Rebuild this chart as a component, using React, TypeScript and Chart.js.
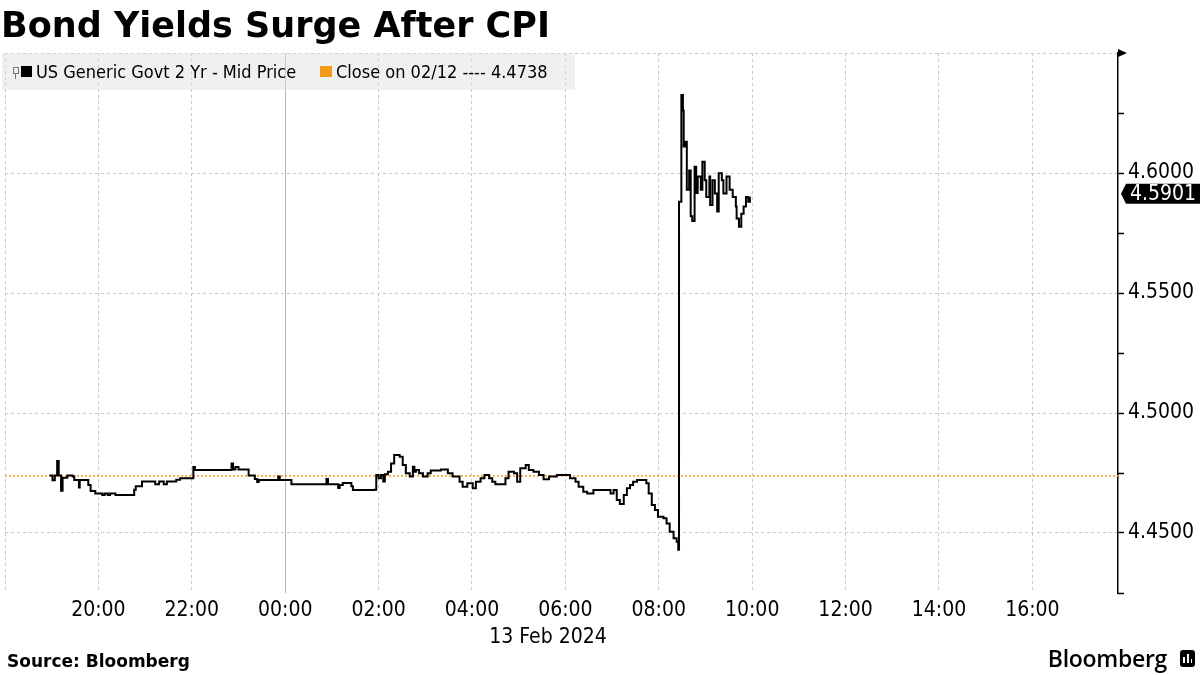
import React, { useEffect, useRef } from 'react';
import { Chart, registerables } from 'chart.js';

Chart.register(...registerables);

// ---- Data ----
const times: string[] = [
  '18:57', '19:01', '19:04', '19:07', '19:09', '19:12', '19:14', '19:20', '19:27', '19:29',
  '19:35', '19:36', '19:47', '19:50', '19:56', '20:05', '20:08', '20:12', '20:15', '20:22',
  '20:46', '20:48', '20:56', '21:13', '21:18', '21:24', '21:28', '21:40', '21:45', '22:02',
  '22:04', '22:51', '22:53', '22:56', '23:00', '23:13', '23:21', '23:24', '23:26', '23:51',
  '23:53', '00:08', '00:53', '00:55', '01:08', '01:10', '01:14', '01:25', '01:27', '01:55',
  '01:57', '02:00', '02:03', '02:06', '02:08', '02:12', '02:16', '02:20', '02:27', '02:31',
  '02:35', '02:40', '02:44', '02:46', '02:48', '02:52', '02:57', '03:03', '03:07', '03:20',
  '03:29', '03:35', '03:44', '03:48', '03:54', '04:01', '04:05', '04:11', '04:16', '04:22',
  '04:26', '04:30', '04:43', '04:47', '04:54', '04:58', '05:02', '05:09', '05:13', '05:19',
  '05:26', '05:32', '05:39', '05:49', '06:02', '06:06', '06:13', '06:17', '06:23', '06:28',
  '06:36', '06:53', '06:58', '07:02', '07:06', '07:10', '07:15', '07:19', '07:23', '07:27',
  '07:32', '07:44', '07:47', '07:51', '07:55', '07:59', '08:06', '08:10', '08:14', '08:19',
  '08:23', '08:25', '08:26', '08:29', '08:31', '08:32', '08:34', '08:36', '08:39', '08:41',
  '08:43', '08:46', '08:48', '08:50', '08:54', '08:56', '08:59', '09:01', '09:05', '09:06',
  '09:09', '09:12', '09:15', '09:17', '09:21', '09:23', '09:27', '09:31', '09:35', '09:39',
  '09:40', '09:43', '09:46', '09:49', '09:52', '09:55', '09:57',
];

const yields: number[] = [
  4.4740, 4.4720, 4.4740, 4.4800, 4.4740, 4.4676, 4.4730, 4.4740, 4.4735, 4.4721,
  4.4690, 4.4721, 4.4700, 4.4675, 4.4665, 4.4658, 4.4665, 4.4658, 4.4665, 4.4658,
  4.4680, 4.4695, 4.4715, 4.4703, 4.4715, 4.4703, 4.4715, 4.4722, 4.4728, 4.4775,
  4.4763, 4.4790, 4.4765, 4.4775, 4.4765, 4.4740, 4.4725, 4.4712, 4.4721, 4.4735,
  4.4721, 4.4703, 4.4725, 4.4703, 4.4688, 4.4700, 4.4708, 4.4695, 4.4679, 4.4680,
  4.4742, 4.4728, 4.4742, 4.4715, 4.4745, 4.4755, 4.4790, 4.4825, 4.4818, 4.4783,
  4.4749, 4.4735, 4.4776, 4.4755, 4.4763, 4.4749, 4.4735, 4.4749, 4.4760, 4.4765,
  4.4749, 4.4735, 4.4714, 4.4693, 4.4707, 4.4686, 4.4714, 4.4728, 4.4742, 4.4728,
  4.4714, 4.4703, 4.4728, 4.4755, 4.4749, 4.4714, 4.4770, 4.4783, 4.4763, 4.4755,
  4.4742, 4.4724, 4.4735, 4.4742, 4.4742, 4.4728, 4.4714, 4.4693, 4.4672, 4.4665,
  4.4679, 4.4679, 4.4665, 4.4679, 4.4638, 4.4621, 4.4658, 4.4686, 4.4700, 4.4714,
  4.4721, 4.4707, 4.4665, 4.4617, 4.4596, 4.4568, 4.4561, 4.4540, 4.4505, 4.4478,
  4.4464, 4.4430, 4.5880, 4.6325, 4.6260, 4.6110, 4.6130, 4.5930, 4.6010, 4.5820,
  4.5800, 4.6026, 4.5917, 4.5985, 4.5930, 4.6047, 4.5970, 4.5900, 4.5985, 4.5867,
  4.5970, 4.5915, 4.5840, 4.5999, 4.5970, 4.5915, 4.5985, 4.5930, 4.5900, 4.5860,
  4.5810, 4.5776, 4.5830, 4.5860, 4.5900, 4.5880, 4.5901,
];

const prevClose = 4.4738;
const seriesName = 'US Generic Govt 2 Yr - Mid Price';
const closeName = 'Close on 02/12';

const xTickTimes: string[] = ['18:00', '20:00', '22:00', '00:00', '02:00', '04:00', '06:00', '08:00', '10:00', '12:00', '14:00', '16:00'];
const xTickLabels: string[] = ['', '20:00', '22:00', '00:00', '02:00', '04:00', '06:00', '08:00', '10:00', '12:00', '14:00', '16:00'];
const dateLabel = '13 Feb 2024';
const xStart = '18:00';
const xEnd = '17:50';
const yMin = 4.425;
const yMax = 4.65;
const yMajorTicks: number[] = [4.45, 4.5, 4.55, 4.6, 4.65];
const yMinorTicks: number[] = [4.425, 4.475, 4.525, 4.575, 4.625];

const title = 'Bond Yields Surge After CPI';
const source = 'Source: Bloomberg';

// ---- helpers ----
const toMinutes = (t: string): number => {
  const [h, m] = t.split(':').map(Number);
  return (h * 60 + m - 18 * 60 + 1440) % 1440;
};
const xMax = toMinutes(xEnd);
const midnight = toMinutes('00:00');

const COND = "'DejaVu Sans Condensed', 'DejaVu Sans', sans-serif";

// unlabelled minor tick marks on the right axis, arrow at its top, last-value tag
const axisPlugin = {
  id: 'axisExtras',
  afterDraw(chart: any) {
    const { ctx, chartArea, scales } = chart;
    const xr = chartArea.right;
    ctx.save();
    ctx.strokeStyle = '#000';
    ctx.lineWidth = 1.5;
    yMinorTicks.forEach((v) => {
      const py = Math.round(scales.y.getPixelForValue(v)) + 0.5;
      ctx.beginPath();
      ctx.moveTo(xr, py);
      ctx.lineTo(xr + 6, py);
      ctx.stroke();
    });
    ctx.fillStyle = '#000';
    ctx.beginPath();
    ctx.moveTo(xr, chartArea.top - 4);
    ctx.lineTo(xr + 9, chartArea.top);
    ctx.lineTo(xr, chartArea.top + 4);
    ctx.closePath();
    ctx.fill();
    const last = yields[yields.length - 1];
    const py = scales.y.getPixelForValue(last) - 3;
    ctx.beginPath();
    ctx.moveTo(xr + 3, py);
    ctx.lineTo(xr + 8, py - 10);
    ctx.lineTo(chart.width, py - 10);
    ctx.lineTo(chart.width, py + 10);
    ctx.lineTo(xr + 8, py + 10);
    ctx.closePath();
    ctx.fill();
    ctx.fillStyle = '#fff';
    ctx.font = `21px ${COND}`;
    ctx.textBaseline = 'middle';
    ctx.textAlign = 'left';
    ctx.fillText(last.toFixed(4), xr + 12, py + 1);
    ctx.restore();
  },
};

export default function App() {
  const canvasRef = useRef<HTMLCanvasElement | null>(null);

  useEffect(() => {
    if (!canvasRef.current) return;
    const chart = new Chart(canvasRef.current, {
      type: 'line',
      data: {
        datasets: [
          {
            label: seriesName,
            data: times.map((t, i) => ({ x: toMinutes(t), y: yields[i] })),
            borderColor: '#000',
            borderWidth: 2,
            pointRadius: 0,
            stepped: true,
            order: 0,
          },
          {
            label: closeName,
            data: [
              { x: toMinutes(xStart), y: prevClose },
              { x: xMax, y: prevClose },
            ],
            borderColor: '#f39a1a',
            borderWidth: 1.5,
            borderDash: [2, 2],
            pointRadius: 0,
            order: 1,
          },
        ],
      },
      options: {
        responsive: false,
        animation: false,
        devicePixelRatio: 1,
        layout: { padding: { left: 1, top: 53, right: 0, bottom: 42 } },
        plugins: { legend: { display: false }, tooltip: { enabled: false } },
        scales: {
          x: {
            type: 'linear',
            min: toMinutes(xStart),
            max: xMax,
            afterBuildTicks: (scale: any) => {
              scale.ticks = xTickTimes.map((t) => ({ value: toMinutes(t) }));
            },
            afterFit: (scale: any) => {
              scale.height = 40;
            },
            ticks: {
              autoSkip: false,
              maxRotation: 0,
              padding: 5,
              color: '#000',
              font: { family: COND, size: 21 },
              callback: (v: any) => {
                const i = xTickTimes.findIndex((t) => toMinutes(t) === v);
                return i >= 0 ? xTickLabels[i] : '';
              },
            },
            grid: {
              drawTicks: false,
              color: (c: any) => (c.tick && c.tick.value === midnight ? '#b4b4b4' : '#c8c8c8'),
              lineWidth: 1,
            },
            border: {
              display: false,
              dash: (c: any) => (c.tick && c.tick.value === midnight ? [] : [3, 3]),
            },
          },
          y: {
            type: 'linear',
            position: 'right',
            min: yMin,
            max: yMax,
            afterBuildTicks: (scale: any) => {
              scale.ticks = yMajorTicks.map((v) => ({ value: v }));
            },
            afterFit: (scale: any) => {
              scale.width = 82;
            },
            ticks: {
              padding: 4,
              color: '#000',
              font: { family: COND, size: 21 },
              callback: (v: any) => (v < yMax - 1e-6 ? Number(v).toFixed(4) : ''),
            },
            grid: {
              color: '#c8c8c8',
              lineWidth: 1,
              tickColor: '#000',
              tickLength: 6,
              tickWidth: 1.5,
            },
            border: { display: true, color: '#000', width: 1.5, dash: [3, 3] },
          },
        },
      },
      plugins: [axisPlugin],
    } as any);
    return () => chart.destroy();
  }, []);

  return (
    <div style={{ position: 'fixed', left: 0, top: 0, width: 1200, height: 675, background: '#fff', overflow: 'hidden' }}>
      <canvas ref={canvasRef} width={1200} height={675} style={{ display: 'block', position: 'absolute', left: 0, top: 0 }} />
      <div
        style={{
          position: 'absolute', left: 1, top: 5, lineHeight: '40px', fontSize: 35, fontWeight: 700,
          fontFamily: "'DejaVu Sans', sans-serif", color: '#000', whiteSpace: 'nowrap',
        }}
      >
        {title}
      </div>
      <div
        style={{
          position: 'absolute', left: 2, top: 53, width: 573, height: 37, background: 'rgba(225,225,225,0.5)',
          fontFamily: COND, fontSize: 18, lineHeight: '37px', color: '#000', whiteSpace: 'nowrap',
        }}
      >
        <span style={{ position: 'absolute', left: 11, top: 14, width: 4, height: 5, border: '1px solid #777' }} />
        <span style={{ position: 'absolute', left: 13, top: 20, width: 1, height: 6, background: '#777' }} />
        <span style={{ position: 'absolute', left: 19, top: 13, width: 11, height: 11, background: '#000' }} />
        <span style={{ position: 'absolute', left: 34, top: 0 }}>{seriesName}</span>
        <span style={{ position: 'absolute', left: 318, top: 13, width: 12, height: 11, background: '#f39a1a' }} />
        <span style={{ position: 'absolute', left: 334, top: 0 }}>{`${closeName} ---- ${prevClose.toFixed(4)}`}</span>
      </div>
      <div
        style={{
          position: 'absolute', left: 448, width: 200, top: 624, lineHeight: '24px', textAlign: 'center',
          fontFamily: COND, fontSize: 21, color: '#000',
        }}
      >
        {dateLabel}
      </div>
      <div
        style={{
          position: 'absolute', left: 7, top: 651, lineHeight: '20px', fontSize: 17, fontWeight: 700,
          fontFamily: "'DejaVu Sans', sans-serif", color: '#000', whiteSpace: 'nowrap',
        }}
      >
        {source}
      </div>
      <div
        style={{
          position: 'absolute', right: 33, top: 643, lineHeight: '30px', fontSize: 23, fontWeight: 600,
          fontFamily: "'Open Sans', sans-serif", color: '#000', whiteSpace: 'nowrap', letterSpacing: -0.3,
        }}
      >
        Bloomberg
      </div>
      <div style={{ position: 'absolute', left: 1180, top: 650, width: 15, height: 17, background: '#000', borderRadius: 3 }}>
        <span style={{ position: 'absolute', left: 3, top: 7, width: 2, height: 6, background: '#fff' }} />
        <span style={{ position: 'absolute', left: 7, top: 4, width: 2, height: 9, background: '#fff' }} />
        <span style={{ position: 'absolute', left: 11, top: 9, width: 1, height: 4, background: '#fff' }} />
      </div>
    </div>
  );
}
